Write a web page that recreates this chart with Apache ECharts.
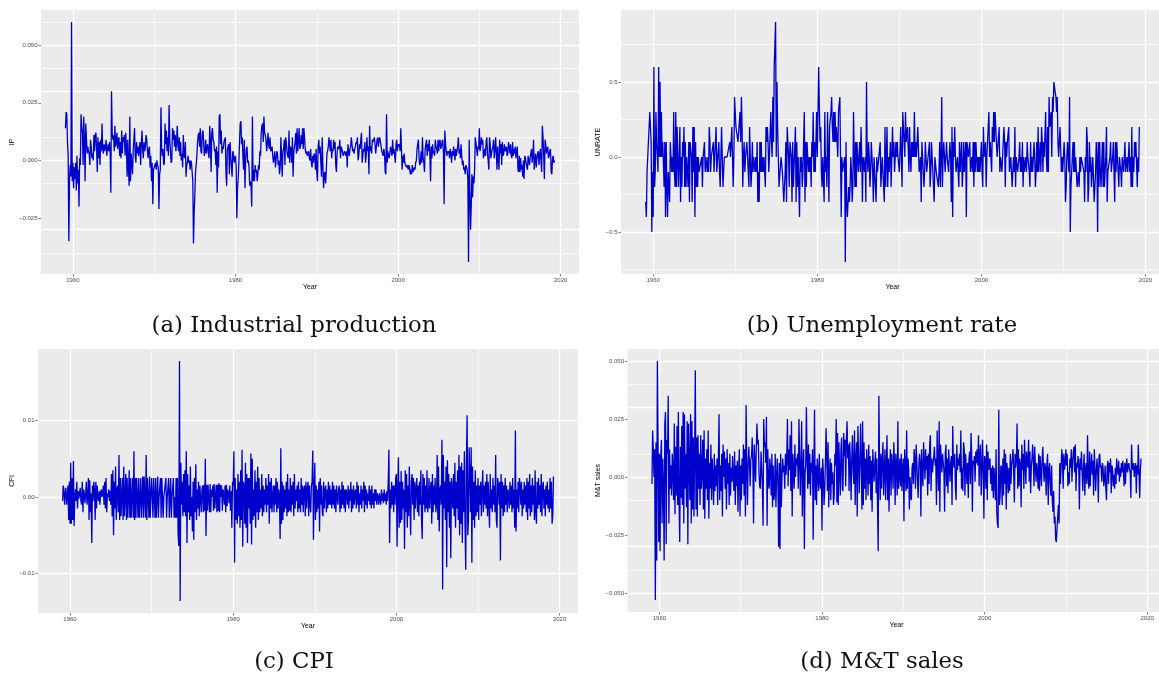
<!DOCTYPE html>
<html>
<head>
<meta charset="utf-8">
<title>Monthly macro series</title>
<script src="https://cdn.jsdelivr.net/npm/echarts@6/dist/echarts.min.js"></script>
<style>
  html, body { margin: 0; padding: 0; background: #fff; }
  #chart { width: 1159px; height: 680px; }
</style>
</head>
<body>
<div id="chart"></div>
<script>
// monthly observations, first one is Feb 1959
const startYear = 1959
const startMonth = 2

const yearTicks = [1960, 1980, 2000, 2020]
const yearMinorTicks = [1970, 1990, 2010]

// (a) industrial production, in units of 0.001
const ipUnit = 0.001
const ipValues = [
  14, 21, 20, 8, 2, -35, -8, -2, -7, 60, -9,
  -1, -12, -3, -8, -1, -13, 2, -10, -4, -20, 1, -2,
  20, 15, 12, -2, 19, 8, -9, 16, 16, 3, 6, 4,
  3, -2, 9, 6, 1, 3, 0, 11, 4, 11, 12, 5,
  -5, 10, 1, 8, -2, 9, 4, 16, 5, 3, 7, 4,
  6, 9, 2, 5, 7, 4, 8, 3, -14, 30, 12, 9,
  11, 4, 15, 6, 8, 12, 5, 9, 10, 2, 8, 1,
  13, 3, 10, 8, 11, 2, 12, 6, -7, 9, -3, -11,
  19, -9, 3, -1, -6, 4, 9, 14, 2, -1, 8, 3,
  6, 2, 5, 8, -2, 7, 13, 5, 1, 8, 4, 6,
  11, 9, 4, 1, 5, 6, -3, 2, -9, -1, -19, -4,
  -3, -2, -1, -4, 0, -2, -3, -21, -6, -4, 23, 5,
  2, 5, -2, -1, 16, 7, 13, 4, 10, 2, 24, 9,
  9, -1, 0, 14, 9, 13, 6, 11, 4, 8, 15, 6,
  4, 10, 2, 8, 0, 3, -3, 11, 2, 1, 8, -7,
  -2, -1, 2, -1, 0, -4, 0, -1, -5, -9, -36, -23,
  -15, -5, -2, 2, 8, 11, 12, 6, 14, 4, 3, 12,
  13, 8, 2, 4, 9, 3, 6, 7, 3, 1, 15, 8,
  -5, 12, 14, 9, 8, 4, 5, -2, 6, -14, 4, -3,
  19, 20, 7, 13, 3, 6, 5, 8, 9, 10, -6, -11,
  5, 6, 7, -6, 8, 2, -3, -7, 4, 3, -1, 1,
  2, -3, -25, -12, -8, -1, 8, 16, 17, 7, 10, 1,
  -4, 9, -12, 0, 5, 6, -1, 0, -3, -11, -9, -11,
  -20, 19, -9, -4, -9, -2, -5, -4, -9, -6, -2, -4,
  4, 2, 12, 15, 16, 8, 19, 12, 11, 9, 4, 7,
  12, 7, 5, 10, 4, 5, 6, 2, -1, 1, 4, -3,
  -3, 4, 3, -2, 0, -6, -3, 10, 2, -7, 4, 5,
  9, -2, 10, 8, 4, 2, 1, 13, -1, 6, 5, -1,
  10, -7, 3, 6, 8, 12, 3, 14, 4, 9, 14, 5,
  6, 11, 7, 14, 5, 14, 14, 5, 3, 4, 2, 3,
  4, 1, 0, 5, -1, -3, 2, -1, 3, 2, -4, 5,
  -5, -9, 6, 9, 3, 6, -1, -7, 10, -2, -12, -6,
  -5, -10, -5, 3, 4, 6, 10, 10, 4, 9, 1, 5,
  4, 9, 5, 8, -2, -5, 3, 6, 6, 5, 9, 1,
  6, 5, 5, 2, 3, 4, 4, 2, 4, -3, 7, 4,
  2, 5, 6, 10, 7, 4, 5, 3, 5, 6, 8, 7,
  10, 0, 2, 7, 5, 9, 12, -1, 2, 5, 4, 8,
  -1, 2, 10, 4, 6, -6, 15, 4, 6, 3, 9, 8,
  9, 10, 7, 3, 6, 9, 10, 6, 9, 10, 8, 6,
  4, 3, 2, 5, 3, -5, -6, 20, -1, 4, 2, 1,
  1, 6, 4, 2, 9, 3, 5, 5, -1, 7, 9, 4,
  7, 6, 7, 4, 14, 5, -4, 2, -1, 3, -1, -2,
  -2, -3, -2, -4, -2, -3, -6, -4, -6, -2, -5, -4,
  -3, -4, -1, 0, 5, 7, 9, 1, -2, -1, 4, -1,
  10, 1, -1, -5, 5, 7, 9, 2, 7, 4, 9, 2,
  -9, 6, 1, 7, 3, 4, 2, 9, 6, 5, 3, 9,
  4, 8, 9, 5, 6, 8, 9, 3, -19, 13, 8, 4,
  2, 4, 3, 4, 1, 5, 3, -1, 4, 2, 6, 3,
  0, 5, 2, 4, 6, 10, 3, 5, 1, 7, 2, -2,
  0, -4, -3, -6, -2, -3, -4, -8, -44, 9, -13, -30,
  -20, -6, -16, -7, -10, -4, 10, 10, 5, 2, 6, 5,
  14, 4, 6, 10, 7, 9, 1, 3, 5, 2, 8, 10,
  3, 0, -4, 10, 7, 1, 3, 5, 6, 9, 1, 4,
  10, 4, -4, 6, 1, -4, 9, 3, 7, -2, 8, 2,
  3, 7, 4, 5, 6, 2, 3, 8, 6, 3, 7, 2,
  1, 8, 2, 5, 3, 6, 1, 4, 6, -4, -5, 2,
  -5, 1, -4, -2, -7, 0, -8, 2, 1, -1, -3, -4,
  2, 0, -2, 1, 3, 5, -1, 2, 9, -4, 0, 3,
  -3, 1, 3, 4, -2, 2, 5, 0, -5, 15, 10, 2,
  -8, 9, 7, 3, 5, 6, 1, 2, 4, 5, -5, -6,
  1, 2, -1, 0
]
const ipTicks = [-0.025, 0, 0.025, 0.05]
const ipMinorTicks = [-0.0375, -0.0125, 0.0125, 0.0375, 0.0625]

// (b) unemployment rate change, in units of 0.1
const urUnit = 0.1
const urValues = [
  -3, -4, -1, -1, 1, 1, 3, 2, 1, -5, -1,
  -4, 6, -2, -1, 3, 1, 1, -1, 6, 0, 5, 0,
  3, 0, 1, 1, -2, 1, -4, 1, -2, -4, -1, -2,
  -3, 1, 0, -1, 0, -1, 3, -1, -2, 3, -2, 2,
  2, -2, 0, 2, -3, 0, -2, 1, 0, 2, -2, 1,
  -2, 0, -1, -2, 1, -3, 1, 1, 0, -3, 2, -1,
  2, -4, 1, -2, 0, -2, 0, -1, -1, -1, -1, 0,
  -2, 0, 0, 1, -1, 0, 0, -1, 0, -1, 2, 1,
  -1, 0, 0, 0, 1, -1, 0, 0, 2, -1, -1, -1,
  1, -1, -2, 0, 2, 0, -2, -1, 0, 0, 0, 0,
  0, 0, 0, 0, 1, 0, 0, 2, 0, -2, 0, 4,
  3, 2, 2, 2, 1, 1, 1, 3, 1, 4, 2, -2,
  0, 1, -1, 0, 0, 1, 1, -1, -2, 2, 0, -2,
  -1, 1, -1, 0, 0, -1, 0, -1, 1, -3, -1, -3,
  1, -1, 1, -1, 0, -1, 0, 0, -2, 2, 1, 2,
  1, -1, 0, 0, 3, 1, 0, 4, 1, 6, 6, 9,
  0, 5, 2, 2, -2, -2, -2, 0, 0, -1, -1, -3,
  -2, -1, 1, -3, 2, 2, 0, -2, 1, 1, 0, -3,
  1, -2, -2, -2, 2, -3, 1, -2, 0, 0, -4, 0,
  -1, 0, -2, -1, -1, 3, -3, 1, -2, 1, 1, -1,
  0, -1, 0, -2, 1, 0, 3, -1, 1, -1, 1, 3,
  0, 0, 6, 6, 1, 2, -1, -2, 0, 0, -3, 3,
  -1, 0, -2, 3, 0, -3, 2, 2, 3, 4, 2, 1,
  3, 1, 3, 1, 2, 2, 0, 3, 3, 4, 0, -4,
  0, -1, -1, -1, 0, -7, 1, -3, -4, -3, -2, -3,
  -2, 0, -1, -3, -2, 3, 0, -2, 1, -2, 1, 0,
  -1, 0, 1, -1, 2, 0, -3, 0, 0, -1, 0, -3,
  5, 0, -1, 1, 0, -2, -1, 1, 0, -1, -3, 0,
  0, 0, -3, 0, -1, -1, -1, -1, 1, -2, -1, 0,
  0, 0, -3, 2, -2, 0, 2, -2, 0, -1, 0, 1,
  -2, -2, 2, 0, 1, -1, 0, 1, 0, 1, 0, 0,
  -1, -1, 2, 0, -2, 3, 2, 2, 0, 3, 1, 1,
  2, 2, -1, 2, 0, -1, 1, 0, 1, 0, 3, 0,
  1, 0, 0, 2, 2, -1, -1, 0, -3, 1, 0, -1,
  -2, -1, 1, 0, -1, -1, -1, -1, 1, -2, -1, 1,
  0, -1, -1, -3, 0, 0, -1, -1, -1, -2, -1, 1,
  -2, 0, 4, -2, 0, 1, 0, -1, -1, 1, 0, 0,
  -1, 0, 1, 0, -3, 2, -4, 1, 0, 2, 0, -1,
  -1, 0, -1, -2, 1, -1, -1, 1, -2, -1, 1, -1,
  0, 1, -4, 1, 1, 0, 0, 1, -1, -1, 0, -1,
  1, -2, 1, -1, 1, 0, -1, 0, -1, 0, -1, 0,
  1, -1, -2, 2, 0, 0, 1, -2, 0, 0, 0, 3,
  0, 1, 1, -1, 2, 1, 3, 1, 3, 2, 2, 0,
  0, 0, 2, -1, 0, 0, -1, 0, 0, 2, 1, -2,
  1, 0, 1, 1, 2, -1, -1, 0, -1, -2, -1, 0,
  -1, 2, -2, 0, 0, -1, -1, 0, 1, -1, 0, -1,
  1, -2, 0, -1, -1, 0, -1, 1, 0, 0, -1, -2,
  1, -1, 0, -1, 0, 1, 0, -2, -1, 1, -1, 2,
  -1, -1, 1, -1, 2, 1, -1, 1, 0, 0, 3, 0,
  -1, 2, -1, 4, 2, 2, 3, 0, 4, 3, 5, 5,
  5, 4, 3, 4, 1, 0, 1, 2, 2, -1, 0, -1,
  0, 1, 0, -3, -2, 0, 1, 0, -1, 4, -5, -2,
  -1, 0, 1, -1, 1, -1, 0, 0, -2, -2, -1, -2,
  0, -1, 0, 0, 0, 0, -1, -3, 0, -1, 2, 1,
  -3, -2, 1, -1, 0, -2, -1, 0, 0, -3, -2, -1,
  1, 0, -5, 1, -2, 1, -1, -2, -2, 1, -2, 1,
  -2, -1, 0, 2, -3, -1, -1, -1, 0, 1, -1, -1,
  0, 1, 1, -3, 1, -1, 1, 1, -1, -2, 0, 0,
  -1, -2, 0, 0, -1, 0, 1, -1, -1, 0, -1, -1,
  1, -1, 0, -2, 2, -2, 0, -1, 1, 0, 1, 1,
  -2, 0, -1, 2
]
const urTicks = [-0.5, 0, 0.5]
const urMinorTicks = [-0.75, -0.25, 0.25, 0.75]

// (c) CPI, in units of 0.0001
const cpiUnit = 0.0001
const cpiValues = [
  -5, 15, 10, -10, 5, 12, -10, 0, 15, -30, 20,
  -35, 45, -35, 25, -30, 47, -38, 0, 10, -5, 20, -15,
  8, -2, 0, 12, -5, -10, 20, -20, 10, 5, -8, 3,
  20, -10, 0, 25, -30, 22, -20, 5, -60, 15, -5, 20,
  10, -30, 20, -15, 15, 0, -5, 8, -10, 5, 10, 0,
  5, 15, -10, 20, -15, 25, -20, 5, 0, 10, -5, 8,
  -10, 30, -25, 35, -50, 20, -15, 40, -30, 10, 15, -20,
  55, -30, 25, -25, 0, 25, -30, 40, -25, 0, 30, -30,
  25, -27, 0, 35, -27, 25, -27, 0, 25, -27, 60, -30,
  25, -27, 25, 0, -27, 25, -27, 0, 25, -27, 0, 27,
  -27, 27, 0, -27, 55, -30, 25, 0, -27, 27, -27, 0,
  25, 0, -27, 25, 0, -27, 25, -27, 0, 27, -27, 0,
  0, 25, -27, 25, 0, -27, 0, 0, 0, 25, -27, 0,
  0, 25, -27, 0, 25, -27, 0, 0, 25, -27, 0, -27,
  25, -27, 25, -49, -64, 178, -136, 45, -10, 20, -25, 30,
  -20, 35, -25, 60, -60, 30, -20, 15, -30, 40, -25, 0,
  -45, 20, -56, 25, -20, 43, -30, 10, -15, 20, -25, 15,
  15, -20, 10, 15, -20, 16, -18, 50, -51, 16, -18, 16,
  15, -20, 17, -20, 10, 0, 15, -18, 17, -15, 0, 16,
  -20, 16, -18, 18, -20, 16, 0, 15, -18, 10, 5, -10,
  15, -20, 16, -12, 10, 5, -8, 15, -18, 8, -40, 20,
  15, 60, -86, 25, -30, 10, -35, 30, -25, 20, -40, 35,
  -30, 62, -65, 20, 15, -35, 45, -40, 30, -60, 25, -15,
  25, -35, 57, -62, 50, -30, 10, -25, 35, -40, 20, -20,
  40, -30, 25, -20, 10, -15, 30, -25, 15, -20, 10, -10,
  25, -20, 15, -10, 30, -35, 20, -15, 25, -20, 0, 15,
  -20, 15, -10, 25, -20, 20, -15, 10, 0, -55, 64, -35,
  20, -30, 15, -20, 10, -15, 20, -25, 30, -20, 10, -18,
  25, -20, 15, -10, 20, -25, 30, -15, 10, -5, 15, -20,
  20, -15, 10, -20, 25, -10, 15, -20, 10, 15, -25, 20,
  -15, 10, 20, -25, 15, -10, -20, 15, 20, 61, -56, 10,
  45, -30, 15, -20, 10, -15, 20, -45, 25, -10, 15, -20,
  -25, 20, -15, 10, 15, -20, 10, -15, 20, -10, 15, -10,
  10, -15, 20, -10, 15, -15, 10, -20, 15, 0, -10, 10,
  15, -20, 10, -15, 20, -10, 15, -15, 10, -20, 10, 5,
  -10, 15, -15, 10, -5, 20, -20, 10, -15, 15, -10, 5,
  10, -15, 20, -10, 15, -20, 5, -10, 15, -15, 10, -5,
  20, -20, 15, -10, 10, -15, 5, -5, 15, -10, 10, -15,
  15, -10, 5, -15, 10, -5, 10, -10, 5, 0, -10, 5,
  5, -10, 10, -5, 5, -8, 10, -5, 5, -10, 8, -5,
  20, 62, -60, 10, -15, 20, -10, 15, -20, 15, -10, 25,
  30, -65, 10, 52, -40, 20, -34, 34, -30, 20, -15, 10,
  -68, 35, -20, 30, -40, 15, -25, 40, -10, -50, 20, 30,
  -10, 25, -30, 20, -15, 10, 25, -20, 15, -25, 20, -10,
  35, -30, -55, 30, -10, 25, -20, 15, -15, 35, -20, -10,
  25, -15, 10, 20, -35, 30, -20, 15, -10, 25, -20, -10,
  55, -30, 40, -45, 10, 15, -10, 75, -121, 55, -15, 20,
  -30, 40, -92, 48, -20, 30, -40, 20, -80, 25, 10, -15,
  30, -25, 45, -40, 20, -15, 35, -30, 55, -50, 40, -35,
  45, -60, 35, -20, 60, -40, -95, 50, 107, -50, -30, 65,
  30, -20, 65, -86, 40, -30, 20, -40, 35, -25, 15, -20,
  25, -30, 15, -10, 20, -25, 10, 35, -20, 15, -10, 20,
  -15, 30, -25, 20, -10, -40, 30, -15, 10, -20, 25, -10,
  15, -20, 55, -30, -40, 25, 15, -10, 20, -83, 30, -15,
  20, -25, 15, -20, 25, -10, 15, -20, 10, 5, -15, 20,
  -10, 15, -20, 25, -15, 10, -40, 87, -45, 10, -15, 20,
  -20, 25, 15, -10, 20, -25, 10, -15, 20, -10, 15, -20,
  25, -30, 20, -15, 30, -25, 15, -20, 25, -10, 15, -30,
  35, -20, -35, 20, -15, 25, -10, 15, -20, 30, -25, 15,
  20, -15, 10, -25, 15, -10, 20, -15, 10, -20, 25, -15,
  20, -35, -25, 27
]
const cpiTicks = [-0.01, 0, 0.01]
const cpiMinorTicks = [-0.015, -0.005, 0.005, 0.015]

// (d) manufacturing & trade sales, in units of 0.001
const mtUnit = 0.001
const mtValues = [
  -3, 20, 12, 0, 12, -53, 15, -36, 50, 15, -28,
  10, -32, 9, 16, -20, 8, -5, -36, 23, 28, -29, 16,
  10, 35, -20, 12, -5, 5, -8, 10, 2, -10, 23, -16,
  13, -8, 22, -12, 28, -10, -28, 13, -9, 22, -12, 28,
  -20, 27, -5, 10, -13, 24, -29, 23, 5, -10, 27, -20,
  24, -14, 17, -17, 10, 46, -14, 17, -17, 18, -5, 10,
  -12, 18, -5, 2, 16, -14, 20, -18, 8, -5, 12, -10,
  20, -18, 6, -5, 14, -10, 8, 0, -12, 10, -6, 5,
  -4, 8, -12, 6, 27, -10, 5, -6, 10, -17, 14, 0,
  11, -5, 8, -14, 12, -3, 6, -12, 10, -8, 4, -2,
  9, 0, -6, 11, -12, 5, -4, 7, -15, 3, 12, -17,
  5, -10, 8, -3, 14, -8, 12, -17, 31, 4, -12, 6,
  13, 5, -4, 8, 9, 17, 5, -20, 14, 7, -2, 12,
  23, 14, 16, 2, -4, -5, 11, 4, -4, -21, 25, 13,
  15, 6, 26, -21, 12, -3, -5, 8, 3, -8, 10, -13,
  5, -10, -7, 10, -13, 0, 8, -3, -30, 6, -31, 10,
  -13, 0, 8, 2, 5, -5, 10, 1, 8, 25, -4, 12,
  3, 18, -6, 24, -17, 10, 2, -5, 14, 0, 8, 5,
  10, -5, 25, 8, -8, 6, 24, -17, 5, 12, -31, 2,
  5, 30, 8, -5, 14, -3, 10, -8, 6, 2, 12, -27,
  3, 29, -10, 5, -12, 8, 2, -6, 10, -3, -5, 4,
  -23, 8, 2, -12, -6, 5, 21, 10, -6, 15, -13, 0,
  8, -10, 6, -3, 2, -12, -8, 10, 5, 25, -11, 19,
  -12, 15, 3, -8, 12, 17, -5, -6, 19, 9, 16, -4,
  16, 24, 8, 14, -6, 15, 5, -10, 9, 18, 3, -3,
  20, -12, 8, 15, -17, 22, 9, -7, 6, 23, 5, -14,
  24, -12, 15, -5, 8, -10, 12, 5, -8, 14, -3, 9,
  -10, 7, -15, 12, 4, -2, 6, 11, -7, 8, -12, -32,
  35, 6, -10, 10, -5, 8, 15, -8, 3, 12, -10, 5,
  18, -10, 8, -15, 5, 12, -8, 10, 4, -5, 15, 6,
  -12, 10, 5, -8, 24, -5, 0, 8, -4, 10, -6, 4,
  8, -19, 12, 5, -6, 20, -5, 8, 3, -14, 0, -8,
  -10, 4, 6, -3, 12, 8, -5, 14, 7, -2, -9, 5,
  10, 6, -17, 12, 2, -4, 15, 7, -1, 12, 3, 9,
  -8, 10, -3, 14, 18, -6, 8, 2, 6, 9, 13, 5,
  8, -12, 20, 4, -6, 24, -15, 14, 8, 2, 10, 6,
  3, -15, 10, 14, -4, 8, -7, 12, 5, -2, 6, 9,
  -12, 22, 6, 4, 10, -5, -10, 14, 3, 8, 5, 10,
  2, 20, -5, 4, -6, 15, 12, -8, 10, 4, -3, 6,
  -9, 8, 11, -3, 19, 10, -15, 7, 5, 9, -2, 11,
  6, 12, 5, 18, -4, 10, 14, -8, 2, 16, 4, -18,
  9, 7, -5, 14, -10, 11, 3, 6, 8, -3, 4, -6,
  5, -9, 4, -2, -10, 12, -15, -20, -22, 29, -12, -8,
  5, 4, -12, 8, -8, 12, -3, 10, -14, 6, 2, -7,
  4, -6, 10, -3, 5, 8, 12, 2, -11, 10, 4, 8,
  23, -5, 12, -4, 8, 5, -13, 14, 3, 10, -5, 16,
  6, -3, 11, 8, 4, 16, -2, 11, -7, 4, 8, 14,
  7, -4, 13, 5, -2, 6, 3, -5, 10, -6, 9, 2,
  -4, 8, 13, 3, -2, 6, 4, -8, 5, 10, -12, 3,
  6, -3, -8, 5, -10, -15, -6, -20, -17, -27, -28, -22,
  -17, -12, -20, 6, -3, 4, 12, 8, -5, 10, 3, 6,
  12, 5, 10, -4, 2, -3, 8, 4, 12, -2, 6, 11,
  13, 2, 14, -6, 6, 4, 9, 5, -14, 8, 3, 11,
  2, -6, 4, 10, -8, 3, 6, -3, 18, 0, -5, 11,
  -4, 5, 10, 1, 7, -8, 12, 4, -6, 2, 8, 3,
  -11, 9, 10, 4, 5, -2, 6, 4, -4, -1, 5, -5,
  -10, 4, 7, -3, 6, 2, 8, -7, 5, 3, -4, 1,
  -5, 4, -3, 8, 3, 1, 7, -2, 4, 0, 6, 2,
  7, 3, -4, 6, -3, 5, 8, 2, 5, 6, 3, 2,
  -9, 14, 5, 3, 6, 0, 4, 6, -7, 5, 1, 14,
  2, -9, 3, 8
]
const mtTicks = [-0.05, -0.025, 0, 0.025, 0.05]
const mtMinorTicks = [-0.0375, -0.0125, 0.0125, 0.0375]

const tickFont = 'Liberation Sans'
const lineColor = '#0000CD'

function monthly(values, unit) {
  return values.map((v, i) => [startYear + (startMonth - 1 + i) / 12, v * unit])
}

// ggplot style 5% padding
function expand(lo, hi) {
  const pad = (hi - lo) * 0.05
  return [lo - pad, hi + pad]
}

function fmt(digits) {
  return v => (v < 0 ? '\u2212' : '') + Math.abs(v).toFixed(digits)
}

const panels = [
  { ylab: 'IP', caption: '(a) Industrial production', values: ipValues, unit: ipUnit,
    ticks: ipTicks, minor: ipMinorTicks, digits: 3,
    grid: { left: 41, top: 10, width: 538, height: 264 }, nameGap: 24, cap: [294, 326] },
  { ylab: 'UNRATE', caption: '(b) Unemployment rate', values: urValues, unit: urUnit,
    ticks: urTicks, minor: urMinorTicks, digits: 1,
    grid: { left: 621, top: 10, width: 543, height: 264 }, nameGap: 18, cap: [882, 326] },
  { ylab: 'CPI', caption: '(c) CPI', values: cpiValues, unit: cpiUnit,
    ticks: cpiTicks, minor: cpiMinorTicks, digits: 2,
    grid: { left: 38, top: 349, width: 540, height: 264 }, nameGap: 20, cap: [294, 662] },
  { ylab: 'M&T sales', caption: '(d) M&T sales', values: mtValues, unit: mtUnit,
    ticks: mtTicks, minor: mtMinorTicks, digits: 3,
    grid: { left: 627.5, top: 349, width: 538, height: 263 }, nameGap: 24, cap: [882, 662] }
]

const grids = [], xAxes = [], yAxes = [], series = [], captions = []

panels.forEach((p, i) => {
  const data = monthly(p.values, p.unit)
  const xs = data.map(d => d[0]), ys = data.map(d => d[1])
  const xr = expand(Math.min(...xs), Math.max(...xs))
  const yr = expand(Math.min(...ys), Math.max(...ys))

  grids.push(Object.assign({ show: true, backgroundColor: '#EBEBEB', borderWidth: 0,
    containLabel: false, outerBoundsMode: 'none' }, p.grid))

  xAxes.push({
    gridIndex: i, type: 'value', min: xr[0], max: xr[1],
    name: 'Year', nameLocation: 'middle', nameGap: 9,
    nameTextStyle: { fontSize: 7, color: '#000', fontFamily: tickFont },
    axisLine: { show: false, onZero: false },
    axisTick: { show: true, length: 2.5, customValues: yearTicks, lineStyle: { color: '#333', width: 0.6 } },
    axisLabel: { customValues: yearTicks, formatter: v => String(v), fontSize: 6, color: '#4D4D4D',
      margin: 3, fontFamily: tickFont },
    splitLine: { show: false }
  })

  yAxes.push({
    gridIndex: i, type: 'value', min: yr[0], max: yr[1],
    name: p.ylab, nameLocation: 'middle', nameGap: p.nameGap,
    nameTextStyle: { fontSize: 7, color: '#000', fontFamily: tickFont },
    axisLine: { show: false, onZero: false },
    axisTick: { show: true, length: 2.5, customValues: p.ticks, lineStyle: { color: '#333', width: 0.6 } },
    axisLabel: { customValues: p.ticks, formatter: fmt(p.digits), fontSize: 6, color: '#4D4D4D',
      margin: 3.5, fontFamily: tickFont },
    splitLine: { show: false }
  })

  const major = { color: '#FFFFFF', width: 1.3, type: 'solid' }
  const minorStyle = { color: '#FFFFFF', width: 0.7, type: 'solid' }
  const gridLines = [].concat(
    yearMinorTicks.map(v => ({ xAxis: v, lineStyle: minorStyle })),
    p.minor.map(v => ({ yAxis: v, lineStyle: minorStyle })),
    yearTicks.map(v => ({ xAxis: v, lineStyle: major })),
    p.ticks.map(v => ({ yAxis: v, lineStyle: major }))
  )

  // background grid lines
  series.push({
    type: 'line', xAxisIndex: i, yAxisIndex: i, data: [], z: 1, silent: true,
    markLine: { symbol: ['none', 'none'], silent: true, animation: false,
      label: { show: false }, emphasis: { disabled: true }, data: gridLines }
  })

  series.push({
    type: 'line', xAxisIndex: i, yAxisIndex: i, data: data, z: 5,
    showSymbol: false, symbol: 'none', silent: true,
    lineStyle: { color: lineColor, width: 1.3 }
  })

  captions.push({
    type: 'text', x: p.cap[0], y: p.cap[1], silent: true,
    style: { text: p.caption, font: '22.8px "DejaVu Serif"', fill: '#111',
      align: 'center', verticalAlign: 'middle', textAlign: 'center', textVerticalAlign: 'middle' }
  })
})

const chart = echarts.init(document.getElementById('chart'), null, { renderer: 'canvas' })
chart.setOption({
  animation: false,
  backgroundColor: '#FFFFFF',
  grid: grids,
  xAxis: xAxes,
  yAxis: yAxes,
  series: series,
  graphic: captions
})
</script>
</body>
</html>
